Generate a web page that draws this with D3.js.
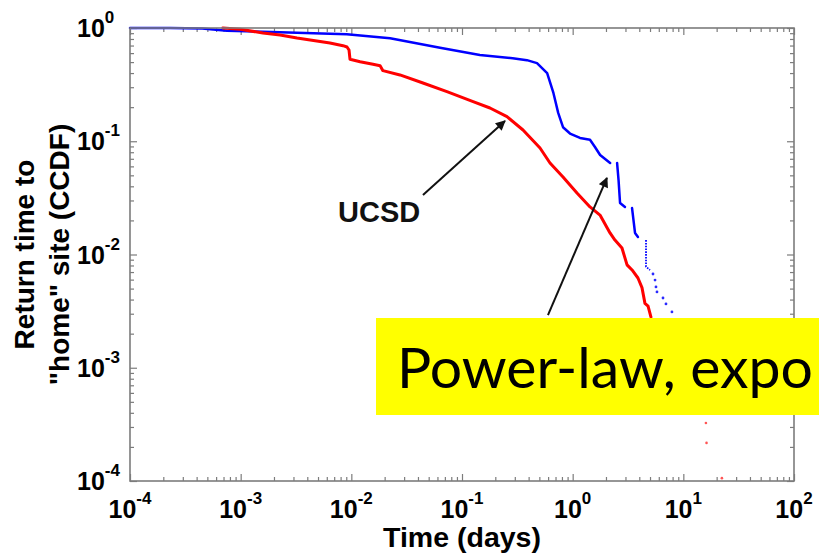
<!DOCTYPE html>
<html>
<head>
<meta charset="utf-8">
<script src="https://cdn.jsdelivr.net/npm/d3@7"></script>
<style>
  body { margin: 0; background: #fff; }
  svg { display: block; }
</style>
</head>
<body>
<svg id="chart" width="819" height="556"></svg>
<script>
// ---- axis decades and their exponent labels ----
const xDecades = [1e-4, 1e-3, 1e-2, 1e-1, 1, 10, 100];
const xExponents = ["-4", "-3", "-2", "-1", "0", "1", "2"];
const yDecades = [1e-4, 1e-3, 1e-2, 1e-1, 1];
const yExponents = ["-4", "-3", "-2", "-1", "0"];

// ---- return time (days) vs CCDF ----
// blue series: sampled runs, split where the samples thin out
const blueRuns = [
  [[1e-4, 1.0], [2.3e-4, 0.998], [4.5e-4, 0.99], [7.5e-4, 0.945], [2.27e-3, 0.916],
   [9.1e-3, 0.88], [0.0224, 0.811], [0.0633, 0.67], [0.145, 0.577], [0.287, 0.540],
   [0.386, 0.52], [0.476, 0.49], [0.588, 0.40], [0.67, 0.267], [0.74, 0.178],
   [0.818, 0.133], [0.946, 0.117], [1.165, 0.107], [1.434, 0.103], [1.59, 0.089],
   [1.77, 0.0756], [2.18, 0.0643]],
  [[2.52, 0.0643], [2.6, 0.045], [2.68, 0.0285], [2.97, 0.0263]],
  [[3.44, 0.0257], [3.66, 0.0155], [3.89, 0.0143]],
  [[4.6, 0.0134], [4.6, 0.0078], [5.0, 0.0073]]
];
const blueDots = [
  [5.32, 0.00673], [5.55, 0.00595], [5.66, 0.00517], [5.78, 0.00467],
  [6.55, 0.00413], [6.97, 0.00366], [7.89, 0.00311]
];

// red series (UCSD)
const redRun = [
  [6.9e-4, 1.0], [9.9e-4, 0.974], [1.59e-3, 0.903], [2.27e-3, 0.867], [3.23e-3, 0.816],
  [6.41e-3, 0.737], [8.41e-3, 0.698], [9.14e-3, 0.68], [9.53e-3, 0.639], [9.73e-3, 0.529],
  [0.012, 0.504], [0.0157, 0.478], [0.0182, 0.465], [0.0193, 0.42], [0.0275, 0.385],
  [0.0444, 0.327], [0.0731, 0.274], [0.126, 0.2235], [0.179, 0.1966], [0.255, 0.1647],
  [0.356, 0.1257], [0.507, 0.0872], [0.624, 0.0643], [0.818, 0.0483], [1.094, 0.0349],
  [1.434, 0.0263], [1.766, 0.0223], [2.175, 0.0155], [2.41, 0.0134], [2.79, 0.0114],
  [3.10, 0.0081], [3.44, 0.0073], [3.89, 0.0062], [4.23, 0.0051], [4.5, 0.0037],
  [4.8, 0.0035], [5.1, 0.0028]
];
const redDots = [[16.0, 3.25e-4], [16.2, 2.17e-4], [22.3, 1.06e-4]];

// ---- annotations (in data coordinates) ----
const ucsdLabel = { text: "UCSD", at: [0.00758, 0.0194] };
const ucsdArrow = { from: [0.0444, 0.0335], to: [0.2446, 0.151] };
const calloutArrow = { from: [0.598, 0.00292], to: [2.04, 0.0474] };
const calloutText = "Power-law, expo";

const xTitle = "Time (days)";
const yTitleLines = ["Return time to", "\"home\" site (CCDF)"];

// ---- layout ----
const plot = { left: 130, right: 794, top: 28, bottom: 481 };
const frameColor = "#7c7c7c";
const font = "'Liberation Sans', Arial, Helvetica, sans-serif";

const svg = d3.select("#chart");

const x = d3.scaleLog().domain([1e-4, 1e2]).range([plot.left, plot.right]);
const y = d3.scaleLog().domain([1e-4, 1]).range([plot.bottom, plot.top]);

function minorTicks(decades) {
  const t = [];
  decades.slice(0, -1).forEach(d => { for (let k = 2; k <= 9; k++) t.push(d * k); });
  return t;
}

// ---- ticks on all four sides, pointing inward ----
function drawTicks(axisGen, transform, values, len) {
  const g = svg.append("g")
    .attr("transform", transform)
    .call(axisGen.tickValues(values).tickSize(-len).tickFormat(""));
  g.select(".domain").remove();
  g.selectAll(".tick line").attr("stroke", frameColor).attr("stroke-width", 1.2);
}
const xMinor = minorTicks(xDecades), yMinor = minorTicks(yDecades);
drawTicks(d3.axisBottom(x), `translate(0,${plot.bottom})`, xDecades, 7);
drawTicks(d3.axisBottom(x), `translate(0,${plot.bottom})`, xMinor, 4);
drawTicks(d3.axisTop(x), `translate(0,${plot.top})`, xDecades, 7);
drawTicks(d3.axisTop(x), `translate(0,${plot.top})`, xMinor, 4);
drawTicks(d3.axisLeft(y), `translate(${plot.left},0)`, yDecades, 7);
drawTicks(d3.axisLeft(y), `translate(${plot.left},0)`, yMinor, 4);
drawTicks(d3.axisRight(y), `translate(${plot.right},0)`, yDecades, 7);
drawTicks(d3.axisRight(y), `translate(${plot.right},0)`, yMinor, 4);

// ---- series ----
const line = d3.line().x(d => x(d[0])).y(d => y(d[1]));

svg.append("g").selectAll("path.blue")
  .data(blueRuns).join("path")
  .attr("class", "blue")
  .attr("d", line)
  .attr("fill", "none")
  .attr("stroke", "#0000ff")
  .attr("stroke-width", (d, i) => i === 3 ? 1.8 : 2.5)
  .attr("stroke-dasharray", (d, i) => i === 3 ? "1.6 1.2" : null)
  .attr("stroke-linejoin", "round")
  .attr("stroke-linecap", (d, i) => i === 3 ? "butt" : "round");

svg.append("g").selectAll("circle")
  .data(blueDots).join("circle")
  .attr("cx", d => x(d[0])).attr("cy", d => y(d[1]))
  .attr("r", 1.4).attr("fill", "#2a2aff");

svg.append("path")
  .datum(redRun)
  .attr("d", line)
  .attr("fill", "none")
  .attr("stroke", "#ff0000")
  .attr("stroke-width", 3)
  .attr("stroke-linejoin", "round")
  .attr("stroke-linecap", "round");

svg.append("g").selectAll("circle")
  .data(redDots).join("circle")
  .attr("cx", d => x(d[0])).attr("cy", d => y(d[1]))
  .attr("r", 1.3).attr("fill", "#ff5555");

// ---- frame ----
svg.append("rect")
  .attr("x", plot.left).attr("y", plot.top)
  .attr("width", plot.right - plot.left).attr("height", plot.bottom - plot.top)
  .attr("fill", "none").attr("stroke", frameColor).attr("stroke-width", 1.6);

// ---- tick labels: 10 with superscript exponent ----
svg.append("g").selectAll("text")
  .data(xDecades).join("text")
  .attr("x", d => x(d)).attr("y", 518)
  .attr("text-anchor", "middle")
  .attr("font-family", font).attr("font-weight", "bold").attr("font-size", 25)
  .attr("fill", "#000")
  .each(function (d, i) {
    const t = d3.select(this);
    t.append("tspan").text("10");
    t.append("tspan").attr("font-size", 17).attr("dy", -14).text(xExponents[i]);
  });

svg.append("g").selectAll("text")
  .data(yDecades).join("text")
  .attr("x", 77).attr("y", d => y(d) + 9)
  .attr("font-family", font).attr("font-weight", "bold").attr("font-size", 25)
  .attr("fill", "#000")
  .each(function (d, i) {
    const t = d3.select(this);
    t.append("tspan").text("10");
    t.append("tspan").attr("font-size", 17).attr("dy", -14).text(yExponents[i]);
  });

// ---- axis titles ----
svg.append("text")
  .attr("x", (plot.left + plot.right) / 2).attr("y", 547)
  .attr("text-anchor", "middle")
  .attr("font-family", font).attr("font-weight", "bold").attr("font-size", 28.5)
  .attr("fill", "#000")
  .text(xTitle);

const yTitle = svg.append("text")
  .attr("transform", `translate(34,${(plot.top + plot.bottom) / 2}) rotate(-90)`)
  .attr("text-anchor", "middle")
  .attr("font-family", font).attr("font-weight", "bold").attr("font-size", 28)
  .attr("fill", "#000");
yTitleLines.forEach((s, i) => {
  yTitle.append("tspan").attr("x", 0).attr("y", i * 35).text(s);
});

// ---- annotations ----
const defs = svg.append("defs");
defs.append("marker")
  .attr("id", "head")
  .attr("viewBox", "0 0 10 10")
  .attr("refX", 9).attr("refY", 5)
  .attr("markerWidth", 6).attr("markerHeight", 5)
  .attr("markerUnits", "strokeWidth")
  .attr("orient", "auto")
  .append("path").attr("d", "M0,0 L10,5 L0,10 Z").attr("fill", "#111");

[ucsdArrow, calloutArrow].forEach(a => {
  svg.append("line")
    .attr("x1", x(a.from[0])).attr("y1", y(a.from[1]))
    .attr("x2", x(a.to[0])).attr("y2", y(a.to[1]))
    .attr("stroke", "#111").attr("stroke-width", 2)
    .attr("marker-end", "url(#head)");
});

svg.append("text")
  .attr("x", x(ucsdLabel.at[0])).attr("y", y(ucsdLabel.at[1]))
  .attr("font-family", font).attr("font-weight", "bold").attr("font-size", 29)
  .attr("fill", "#111")
  .text(ucsdLabel.text);

// yellow callout box
svg.append("rect")
  .attr("x", 376).attr("y", 318)
  .attr("width", 819 - 376).attr("height", 97)
  .attr("fill", "#ffff00");

svg.append("text")
  .attr("x", 397).attr("y", 388)
  .attr("font-family", "Lato, 'Open Sans', sans-serif")
  .attr("font-size", 57)
  .attr("fill", "#000")
  .attr("textLength", 416)
  .attr("lengthAdjust", "spacingAndGlyphs")
  .text(calloutText);
</script>
</body>
</html>
